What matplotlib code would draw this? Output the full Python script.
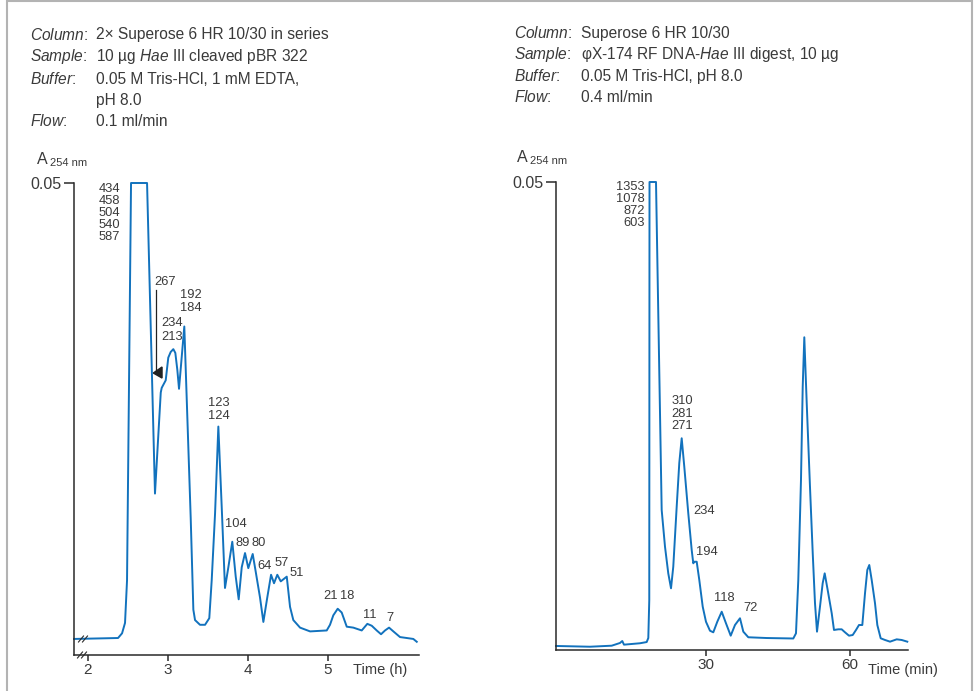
import matplotlib
matplotlib.use('Agg')
import matplotlib.pyplot as plt
from matplotlib.lines import Line2D
from matplotlib.patches import Rectangle, Polygon

plt.rcParams['font.family'] = ['Liberation Sans', 'DejaVu Sans']
plt.rcParams['mathtext.fontset'] = 'custom'
plt.rcParams['mathtext.rm'] = 'Liberation Sans'
plt.rcParams['mathtext.it'] = 'Liberation Sans:italic'

W, H = 975, 691
BLUE = '#1272bd'
TXT = '#3a3a3a'
AXC = '#2a2a2a'

# ---------------- data: left chromatogram (time in h, A254) ----------------
left_time_h = [1.830, 2.380, 2.430, 2.467, 2.492, 2.542, 2.742, 2.841, 2.913, 2.925,
               2.975, 3.007, 3.037, 3.070, 3.095, 3.120, 3.141, 3.175, 3.207, 3.287,
               3.320, 3.341, 3.403, 3.466, 3.519, 3.549, 3.591, 3.632, 3.674, 3.715,
               3.757, 3.806, 3.849, 3.886, 3.924, 3.965, 4.006, 4.061, 4.099, 4.152,
               4.194, 4.243, 4.290, 4.327, 4.368, 4.411, 4.486, 4.527, 4.568, 4.652,
               4.777, 4.985, 5.026, 5.067, 5.122, 5.172, 5.235, 5.317, 5.422, 5.492,
               5.547, 5.609, 5.663, 5.713, 5.763, 5.817, 5.900, 5.984, 6.066, 6.109]
left_abs = [0.0017, 0.0018, 0.0023, 0.0034, 0.0079, 0.0500, 0.0500, 0.0171, 0.0278, 0.0283,
            0.0291, 0.0315, 0.0321, 0.0324, 0.0320, 0.0302, 0.0282, 0.0316, 0.0348, 0.0145,
            0.0048, 0.0037, 0.0032, 0.0032, 0.0039, 0.0079, 0.0150, 0.0242, 0.0157, 0.0071,
            0.0093, 0.0120, 0.0083, 0.0059, 0.0093, 0.0108, 0.0092, 0.0107, 0.0088, 0.0061,
            0.0035, 0.0061, 0.0085, 0.0076, 0.0085, 0.0078, 0.0083, 0.0051, 0.0037, 0.0029,
            0.0025, 0.0026, 0.0032, 0.0042, 0.0049, 0.0045, 0.0030, 0.0029, 0.0026, 0.0033,
            0.0031, 0.0026, 0.0022, 0.0026, 0.0029, 0.0025, 0.0019, 0.0018, 0.0017, 0.0014]
left_ticks = [2, 3, 4, 5]
left_top_labels = ['434', '458', '504', '540', '587']

# ---------------- data: right chromatogram (time in min, A254) ----------------
right_time_min = [-1.12, 5.95, 10.46, 12.18, 12.66, 13.01, 16.34, 17.73, 18.07, 18.27,
                  18.32, 19.67, 20.85, 21.54, 22.22, 22.79, 23.26, 23.97, 24.51, 25.01,
                  25.55, 26.38, 27.09, 27.42, 27.63, 28.13, 28.67, 29.38, 30.06, 30.89,
                  31.58, 32.41, 33.33, 34.22, 35.20, 36.09, 37.13, 37.82, 38.86, 42.68,
                  48.21, 48.77, 49.25, 49.81, 50.17, 50.50, 51.00, 51.68, 52.25, 52.72,
                  53.14, 53.76, 54.32, 54.74, 55.36, 56.20, 56.67, 57.57, 58.27, 58.96,
                  59.79, 60.56, 61.25, 61.87, 62.56, 63.12, 63.60, 64.01, 64.51, 65.20,
                  65.68, 66.38, 67.28, 68.32, 69.71, 70.75, 71.91]
right_abs = [0.00043, 0.00035, 0.00046, 0.00075, 0.00096, 0.00057, 0.00072, 0.00085, 0.00128, 0.00534,
             0.0500, 0.0500, 0.01496, 0.01104, 0.00819, 0.00659, 0.00890, 0.01531, 0.01998, 0.02262,
             0.01958, 0.01461, 0.01068, 0.00926, 0.00943, 0.00943, 0.00748, 0.00463, 0.00302, 0.00206,
             0.00189, 0.00302, 0.00409, 0.00285, 0.00153, 0.00267, 0.00339, 0.00196, 0.00136, 0.00128,
             0.00123, 0.00178, 0.00748, 0.01816, 0.02813, 0.03341, 0.02639, 0.01745, 0.01036, 0.00502,
             0.00196, 0.00463, 0.00713, 0.00819, 0.00641, 0.00392, 0.00214, 0.00221, 0.00221, 0.00189,
             0.00153, 0.00160, 0.00214, 0.00267, 0.00267, 0.00606, 0.00855, 0.00908, 0.00748, 0.00499,
             0.00267, 0.00125, 0.00107, 0.00089, 0.00114, 0.00107, 0.00089]
right_ticks = [30, 60]
right_top_labels = ['1353', '1078', '872', '603']

fig = plt.figure(figsize=(W / 100, H / 100), dpi=100)


def fx(x):
    return x / W


def fy(y):
    return 1 - y / H


def fline(xs, ys, **kw):
    fig.add_artist(Line2D([fx(v) for v in xs], [fy(v) for v in ys],
                          transform=fig.transFigure, **kw))


# outer frame
fig.add_artist(Rectangle((fx(7), fy(700)), fx(972) - fx(7), fy(1) - fy(700),
                         transform=fig.transFigure, fill=False,
                         edgecolor='#b3b3b3', lw=1.5))

# ---------------- header texts ----------------
HFS = 11.2


def header(xl, xv, yb, label, value):
    fig.text(fx(xl), fy(yb), r'$\mathit{' + label + '}$:', fontsize=HFS, color=TXT,
             ha='left', va='baseline')
    if value:
        fig.text(fx(xv), fy(yb), value, fontsize=HFS, color=TXT, ha='left', va='baseline')


header(30, 96, 39.5, 'Column', '2× Superose 6 HR 10/30 in series')
header(30, 96, 61.5, 'Sample', r'10 µg $\mathit{Hae}$ III cleaved pBR 322')
header(30, 96, 83.5, 'Buffer', '0.05 M Tris-HCl, 1 mM EDTA,')
fig.text(fx(96), fy(105), 'pH 8.0', fontsize=HFS, color=TXT, ha='left', va='baseline')
header(30, 96, 126.5, 'Flow', '0.1 ml/min')

header(514, 581, 38, 'Column', 'Superose 6 HR 10/30')
header(514, 581, 59.5, 'Sample', r'φX-174 RF DNA-$\mathit{Hae}$ III digest, 10 µg')
header(514, 581, 81, 'Buffer', '0.05 M Tris-HCl, pH 8.0')
header(514, 581, 102, 'Flow', '0.4 ml/min')

# ---------------- axes ----------------
axL = fig.add_axes([fx(74), fy(655), fx(419) - fx(74), fy(183) - fy(655)])
axR = fig.add_axes([fx(556), fy(650), fx(908.3) - fx(556), fy(182) - fy(650)])
axL.set_xlim(1.830, 6.137)
axR.set_xlim(-1.12, 72.12)

for ax, ticks in ((axL, left_ticks), (axR, right_ticks)):
    ax.set_ylim(0, 0.05)
    ax.set_facecolor('none')
    for s in ('top', 'right'):
        ax.spines[s].set_visible(False)
    for s in ('left', 'bottom'):
        ax.spines[s].set_color(AXC)
        ax.spines[s].set_linewidth(1.1)
    ax.set_yticks([0.05])
    ax.set_yticklabels(['0.05'])
    ax.set_xticks(ticks)
    ax.set_xticklabels([str(t) for t in ticks])
    ax.tick_params(axis='y', direction='out', length=7.5, width=1.1, color=AXC,
                   labelsize=11.5, labelcolor=TXT, pad=1.5)
    ax.tick_params(axis='x', direction='out', length=4.5, width=1.1, color=AXC,
                   labelsize=11, labelcolor=TXT, pad=1.5)

axL.plot(left_time_h, left_abs, color=BLUE, lw=1.4, clip_on=False, solid_joinstyle='round')
axR.plot(right_time_min, right_abs, color=BLUE, lw=1.4, clip_on=False, solid_joinstyle='round')

# y-axis titles
for xa, xs, y in ((37, 50, 159), (517, 530, 157)):
    fig.text(fx(xa), fy(y), 'A', fontsize=11.5, color=TXT, ha='left', va='center')
    fig.text(fx(xs), fy(y + 4), '254 nm', fontsize=8, color=TXT, ha='left', va='center')

# x-axis titles
fig.text(fx(380), fy(670), 'Time (h)', fontsize=10.5, color=TXT, ha='center', va='center')
fig.text(fx(903), fy(670), 'Time (min)', fontsize=10.5, color=TXT, ha='center', va='center')

# axis break marks
for x0 in (81, 85):
    fline([x0 - 2.5, x0 + 2.5], [642, 636], color=AXC, lw=0.8)
for x0 in (80, 84):
    fline([x0 - 2.5, x0 + 2.5], [658, 652], color=AXC, lw=0.8)

# ---------------- peak labels ----------------
PFS = 9.3


def lab(ax, t, a, s, ha='center'):
    ax.text(t, a, s, fontsize=PFS, color=TXT, ha=ha, va='center', clip_on=False)


for i, s in enumerate(left_top_labels):
    lab(axL, 2.404, 0.04936 - i * 0.00127, s, ha='right')
lab(axL, 2.973, 0.03951, '267')
lab(axL, 3.285, 0.03813, '192')
lab(axL, 3.285, 0.03676, '184')
lab(axL, 3.054, 0.03517, '234')
lab(axL, 3.054, 0.03369, '213')
lab(axL, 3.640, 0.02669, '123')
lab(axL, 3.640, 0.02535, '124')
lab(axL, 3.856, 0.01388, '104')
lab(axL, 3.934, 0.01186, '89')
lab(axL, 4.140, 0.01186, '80')
lab(axL, 4.211, 0.00946, '64')
lab(axL, 4.421, 0.00975, '57')
lab(axL, 4.608, 0.00872, '51')
lab(axL, 5.030, 0.00625, '21')
lab(axL, 5.245, 0.00625, '18')
lab(axL, 5.519, 0.00424, '11')
lab(axL, 5.779, 0.00392, '7')

# arrow for 267
axL.plot([2.848, 2.848], [0.03866, 0.02987], color='#222222', lw=0.9, clip_on=False)
axL.add_patch(Polygon([(2.820, 0.02987), (2.929, 0.03051), (2.929, 0.02934)],
                      closed=True, color='#222222', clip_on=False))

for i, s in enumerate(right_top_labels):
    lab(axR, 17.38, 0.04950 - i * 0.00131, s, ha='right')
lab(axR, 25.07, 0.02660, '310')
lab(axR, 25.07, 0.02525, '281')
lab(axR, 25.07, 0.02396, '271')
lab(axR, 29.65, 0.01488, '234')
lab(axR, 30.33, 0.01050, '194')
lab(axR, 33.91, 0.00552, '118')
lab(axR, 39.27, 0.00446, '72')

fig.savefig('out.png', dpi=100)
